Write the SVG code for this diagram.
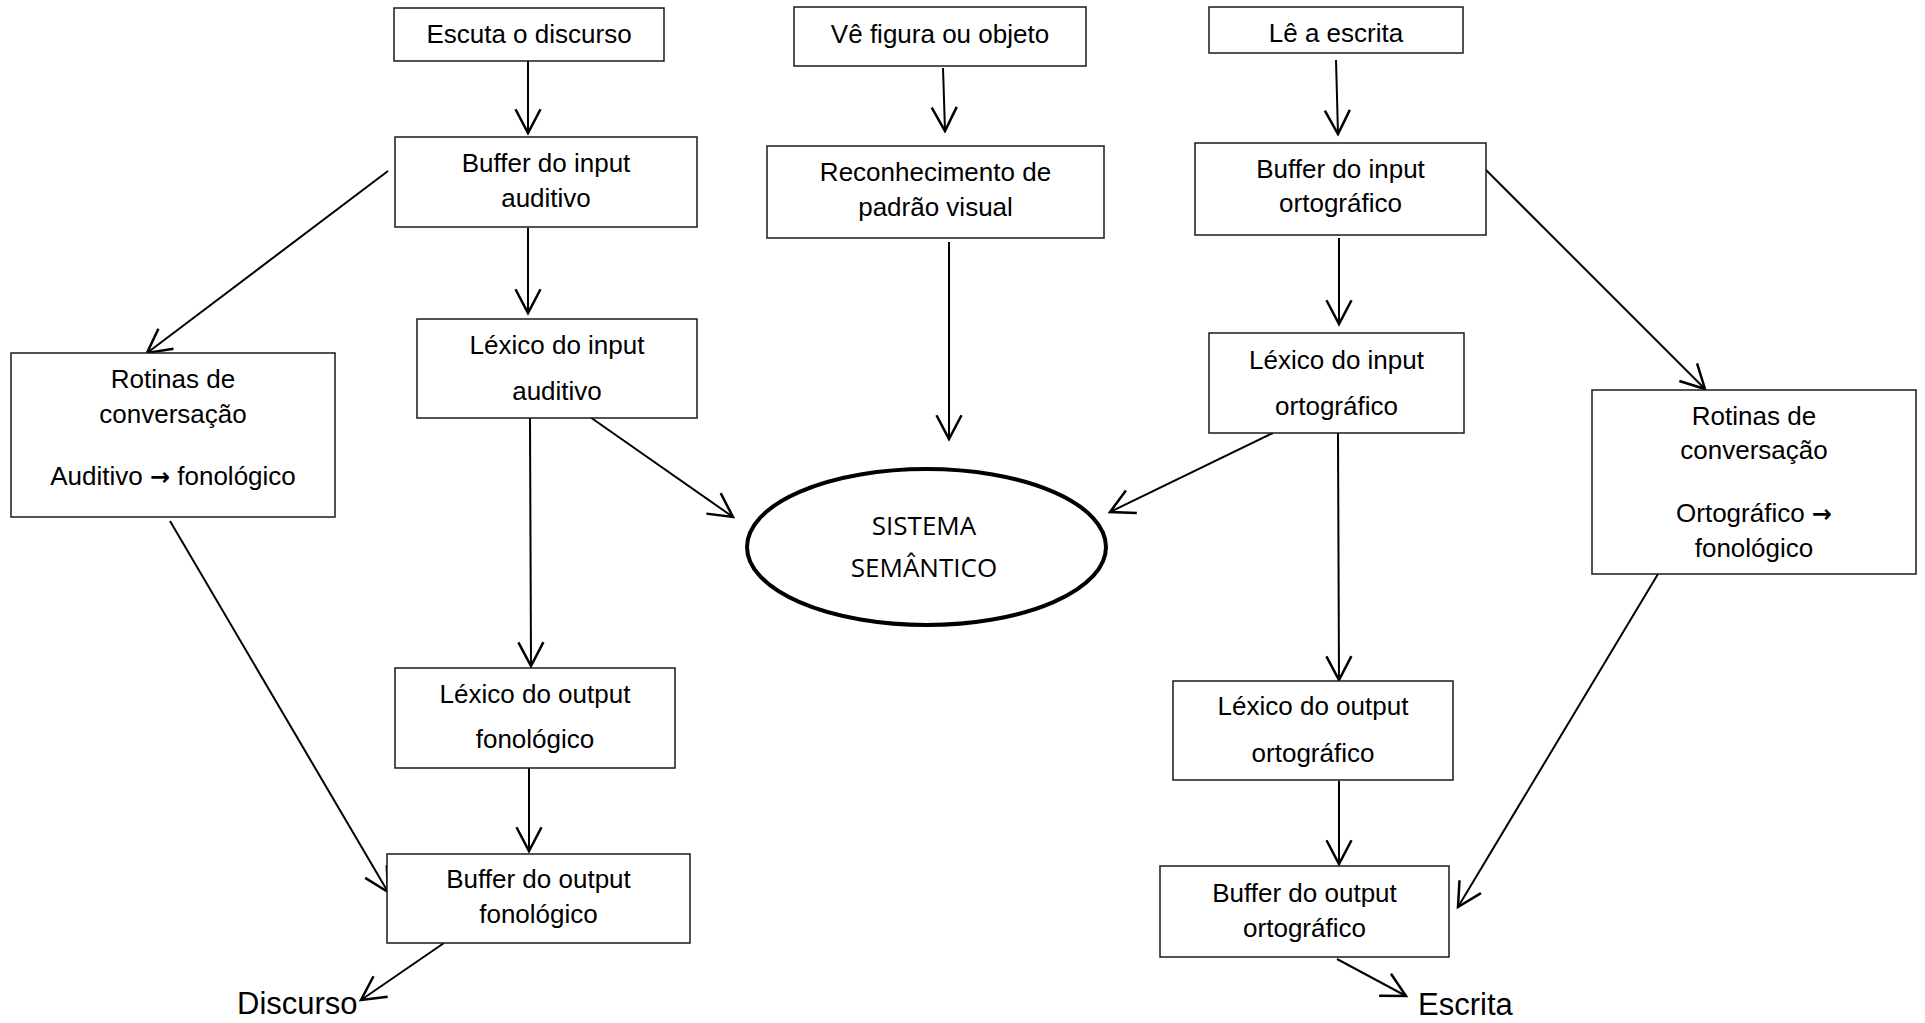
<svg xmlns="http://www.w3.org/2000/svg" width="1925" height="1023" viewBox="0 0 1925 1023">
<style>
.box{fill:#fff;stroke:#1a1a1a;stroke-width:1.5}
.t{font-family:"Liberation Sans",Arial,sans-serif;font-size:26px;fill:#000;text-anchor:middle}
.ar{font-family:"DejaVu Sans",sans-serif;font-weight:bold;font-size:24px}
.big{font-family:"Liberation Sans",Arial,sans-serif;font-size:31px;fill:#000}
.c{stroke:#000;stroke-width:2;fill:none;marker-end:url(#ah)}
.sem{font-family:"Open Sans","Noto Sans",sans-serif;font-size:26px;fill:#000;text-anchor:middle}
</style>
<defs>
<marker id="ah" markerUnits="userSpaceOnUse" markerWidth="30" markerHeight="30" viewBox="-22 -12 24 24" refX="0" refY="0" orient="auto">
<path d="M-19,-10 L0,0 L-19,10" fill="none" stroke="#000" stroke-width="2"/>
</marker>
</defs>
<rect width="1925" height="1023" fill="#fff"/>

<g id="connectors">
<line class="c" x1="528" y1="61" x2="528" y2="133"/>
<line class="c" x1="528" y1="228" x2="528" y2="313"/>
<line class="c" x1="388" y1="171" x2="147" y2="353"/>
<line class="c" x1="590" y1="417" x2="733" y2="517"/>
<line class="c" x1="530" y1="418" x2="531" y2="666"/>
<line class="c" x1="529" y1="766" x2="529" y2="851"/>
<line class="c" x1="170" y1="521" x2="388" y2="892"/>
<line class="c" x1="444" y1="943" x2="361" y2="1000"/>
<line class="c" x1="943" y1="68" x2="945" y2="131"/>
<line class="c" x1="949" y1="242" x2="949" y2="439"/>
<line class="c" x1="1336" y1="60" x2="1338" y2="134"/>
<line class="c" x1="1339" y1="238" x2="1339" y2="324"/>
<line class="c" x1="1486" y1="170" x2="1705" y2="389"/>
<line class="c" x1="1273" y1="433" x2="1110" y2="512"/>
<line class="c" x1="1338" y1="433" x2="1339" y2="680"/>
<line class="c" x1="1339" y1="781" x2="1339" y2="864"/>
<line class="c" x1="1658" y1="574" x2="1458" y2="907"/>
<line class="c" x1="1337" y1="959" x2="1406" y2="996"/>
</g>

<g id="escuta">
<rect class="box" x="394" y="8" width="270" height="53"/>
<text class="t" x="529" y="43">Escuta o discurso</text>
</g>
<g id="ve-figura">
<rect class="box" x="794" y="7" width="292" height="59"/>
<text class="t" x="940" y="43">Vê figura ou objeto</text>
</g>
<g id="le-escrita">
<rect class="box" x="1209" y="7" width="254" height="46"/>
<text class="t" x="1336" y="42">Lê a escrita</text>
</g>
<g id="buffer-input-auditivo">
<rect class="box" x="395" y="137" width="302" height="90"/>
<text class="t" x="546" y="172">Buffer do input</text>
<text class="t" x="546" y="207">auditivo</text>
</g>
<g id="reconhecimento">
<rect class="box" x="767" y="146" width="337" height="92"/>
<text class="t" x="935.5" y="181">Reconhecimento de</text>
<text class="t" x="935.5" y="216">padrão visual</text>
</g>
<g id="buffer-input-ortografico">
<rect class="box" x="1195" y="143" width="291" height="92"/>
<text class="t" x="1340.5" y="178">Buffer do input</text>
<text class="t" x="1340.5" y="212">ortográfico</text>
</g>
<g id="lexico-input-auditivo">
<rect class="box" x="417" y="319" width="280" height="99"/>
<text class="t" x="557" y="354">Léxico do input</text>
<text class="t" x="557" y="400">auditivo</text>
</g>
<g id="lexico-input-ortografico">
<rect class="box" x="1209" y="333" width="255" height="100"/>
<text class="t" x="1336.5" y="369">Léxico do input</text>
<text class="t" x="1336.5" y="415">ortográfico</text>
</g>
<g id="rotinas-auditivo">
<rect class="box" x="11" y="353" width="324" height="164"/>
<text class="t" x="173" y="388">Rotinas de</text>
<text class="t" x="173" y="423">conversação</text>
<text class="t" x="173" y="485">Auditivo <tspan class="ar">→</tspan> fonológico</text>
</g>
<g id="rotinas-ortografico">
<rect class="box" x="1592" y="390" width="324" height="184"/>
<text class="t" x="1754" y="425">Rotinas de</text>
<text class="t" x="1754" y="459">conversação</text>
<text class="t" x="1754" y="522">Ortográfico <tspan class="ar">→</tspan></text>
<text class="t" x="1754" y="557">fonológico</text>
</g>
<g id="sistema-semantico">
<ellipse cx="926.5" cy="547" rx="179.5" ry="78" fill="#fff" stroke="#000" stroke-width="4"/>
<text class="sem" x="924" y="535">SISTEMA</text>
<text class="sem" x="924" y="577">SEMÂNTICO</text>
</g>
<g id="lexico-output-fonologico">
<rect class="box" x="395" y="668" width="280" height="100"/>
<text class="t" x="535" y="703">Léxico do output</text>
<text class="t" x="535" y="748">fonológico</text>
</g>
<g id="buffer-output-fonologico">
<rect class="box" x="387" y="854" width="303" height="89"/>
<text class="t" x="538.5" y="888">Buffer do output</text>
<text class="t" x="538.5" y="923">fonológico</text>
</g>
<g id="lexico-output-ortografico">
<rect class="box" x="1173" y="681" width="280" height="99"/>
<text class="t" x="1313" y="715">Léxico do output</text>
<text class="t" x="1313" y="762">ortográfico</text>
</g>
<g id="buffer-output-ortografico">
<rect class="box" x="1160" y="866" width="289" height="91"/>
<text class="t" x="1304.5" y="902">Buffer do output</text>
<text class="t" x="1304.5" y="937">ortográfico</text>
</g>
<g id="discurso">
<text class="big" x="237" y="1014">Discurso</text>
</g>
<g id="escrita">
<text class="big" x="1418" y="1015">Escrita</text>
</g>
</svg>
